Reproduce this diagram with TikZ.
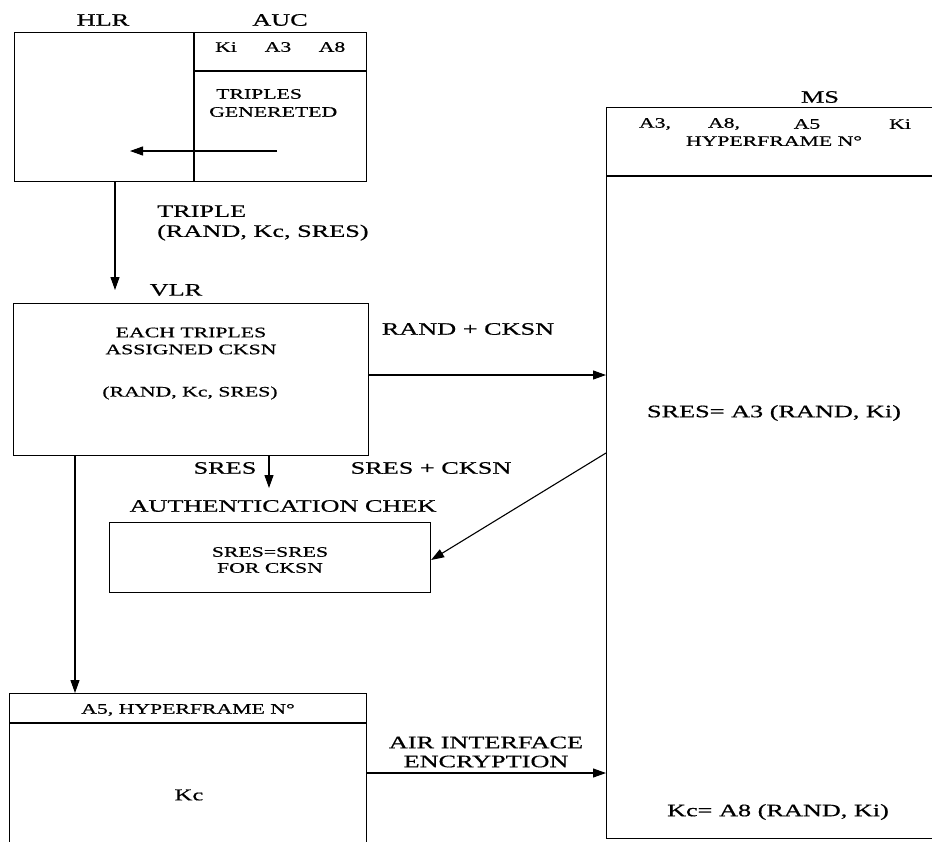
\documentclass[tikz,border=0pt]{standalone}
\usepackage{fontspec}
\setmainfont[FakeStretch=1.5,FakeBold=0.6]{Liberation Serif}
\usetikzlibrary{arrows.meta}
\newcommand\bigtxt{\fontsize{17.5}{20}\selectfont}
\newcommand\smtxt{\fontsize{14.5}{17}\selectfont}
\tikzset{
  box/.style={draw, line width=1.1pt, inner sep=0pt, anchor=north west},
  arr/.style={line width=1.1pt, -{Triangle[length=13pt,width=9pt]}},
  lab/.style={inner sep=0pt, font=\bigtxt, align=center},
  sm/.style={inner sep=0pt, font=\smtxt, align=center},
  part/.style={line width=1.1pt}
}
\begin{document}
\begin{tikzpicture}[x=1pt,y=-1pt]
\useasboundingbox (0,0) rectangle (932,841);
\clip (0,0) rectangle (932,841);

% HLR / AUC
\node[box, minimum width=352pt, minimum height=149pt] (hlr) at (14,32) {};
\draw[part] (194,32) -- (194,181);
\draw[part] (194,71) -- (366,71);
\node[lab] (hlrlab) at (103,20) {HLR};
\node[lab] (auclab) at (280,20) {AUC};
\node[sm] (ki1) at (226,47) {Ki};
\node[sm] (a31) at (278,47) {A3};
\node[sm] (a81) at (332,47) {A8};
\node[sm, align=left, anchor=west, font=\fontsize{14.5}{18}\selectfont] (trg) at (209,103) {\hspace{7pt}TRIPLES\\GENERETED};
\coordinate (tgs) at (277,151);
\coordinate (tge) at (130,151);
\draw[arr] (tgs) -- (tge);

% triple label
\node[lab, align=left, anchor=west] (triple) at (157,223) {TRIPLE\\(RAND, Kc, SRES)};

% VLR
\node[lab] (vlrlab) at (176,290) {VLR};
\node[box, minimum width=355pt, minimum height=152pt] (vlr) at (13,303) {};
\node[sm] (each) at (191,341) {EACH TRIPLES\\ASSIGNED CKSN};
\node[sm] (rks) at (190,393) {(RAND, Kc, SRES)};

\coordinate (hv) at (115,290);
\draw[arr] (hlr.south -| hv) -- (hv);

% RAND + CKSN
\node[lab] (randl) at (468,329) {RAND + CKSN};
\coordinate (ry) at (0,375);

% Authentication
\node[lab] (sresl) at (225,468) {SRES};
\node[lab] (srescl) at (431,468) {SRES + CKSN};
\coordinate (sv) at (269,488);
\draw[arr] (vlr.south -| sv) -- (sv);
\node[lab] (authl) at (283,506) {AUTHENTICATION CHEK};
\node[box, minimum width=321pt, minimum height=70pt] (auth) at (109,522) {};
\node[sm, font=\fontsize{14.5}{16}\selectfont] (eq) at (270,560) {SRES=SRES\\FOR CKSN};

% Encryption box
\node[box, minimum width=357pt, minimum height=170pt] (enc) at (9,693) {};
\draw[part] (9,723) -- (366,723);
\node[sm] (a5h) at (188,710) {A5, HYPERFRAME N°};
\node[lab, font=\fontsize{16.5}{19}\selectfont] (kc) at (189,795) {Kc};
\coordinate (lv) at (75,0);
\draw[arr] (vlr.south -| lv) -- (enc.north -| lv);
\node[lab, font=\fontsize{17.5}{19}\selectfont] (airl) at (486,752) {AIR INTERFACE\\ENCRYPTION};
\coordinate (ay) at (0,773);

% MS
\node[lab] (msl) at (820,97) {MS};
\node[box, minimum width=345pt, minimum height=731pt] (ms) at (606,107) {};
\draw[part] (606,176) -- (940,176);
\node[sm] (a3m) at (655,124) {A3,};
\node[sm] (a8m) at (724,124) {A8,};
\node[sm] (a5m) at (807,124) {A5};
\node[sm] (kim) at (900,124) {Ki};
\node[sm] (hfm) at (774,141) {HYPERFRAME N°};
\node[lab] (sresm) at (774,413) {SRES= A3 (RAND, Ki)};
\node[lab] (kcm) at (778,812) {Kc= A8 (RAND, Ki)};

% connectors to/from MS
\draw[arr] (vlr.east |- ry) -- (ms.west |- ry);
\coordinate (s1) at (0,453);
\coordinate (s2) at (0,560);
\draw[arr] (ms.west |- s1) -- (auth.east |- s2);
\draw[arr] (enc.east |- ay) -- (ms.west |- ay);
\end{tikzpicture}
\end{document}
